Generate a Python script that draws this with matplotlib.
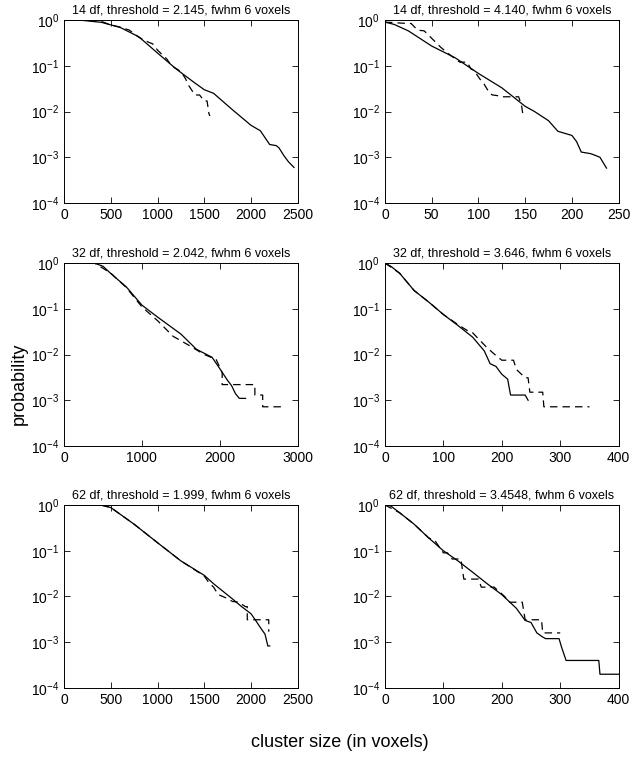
import numpy as np
import matplotlib
matplotlib.use('Agg')
import matplotlib.pyplot as plt
from matplotlib.ticker import LogLocator, NullLocator

plt.rcParams['font.family'] = ['Liberation Sans', 'DejaVu Sans']
plt.rcParams['mathtext.fontset'] = 'custom'
plt.rcParams['mathtext.rm'] = 'Liberation Sans'
plt.rcParams['mathtext.it'] = 'Liberation Sans:italic'
plt.rcParams['mathtext.bf'] = 'Liberation Sans:bold'

titles = ['14 df, threshold = 2.145, fwhm 6 voxels',
          '14 df, threshold = 4.140, fwhm 6 voxels',
          '32 df, threshold = 2.042, fwhm 6 voxels',
          '32 df, threshold = 3.646, fwhm 6 voxels',
          '62 df, threshold = 1.999, fwhm 6 voxels',
          '62 df, threshold = 3.4548, fwhm 6 voxels']
xmax = [2500, 250, 3000, 400, 2500, 400]
xticks = [[0, 500, 1000, 1500, 2000, 2500],
          [0, 50, 100, 150, 200, 250],
          [0, 1000, 2000, 3000],
          [0, 100, 200, 300, 400],
          [0, 500, 1000, 1500, 2000, 2500],
          [0, 100, 200, 300, 400]]

# solid curves
s1_x = [0, 200, 400, 600, 800, 1000, 1200, 1400, 1500, 1600, 1800, 2000, 2100, 2200, 2270, 2300, 2350, 2400, 2460]
s1_p = [1.0, 0.98, 0.89, 0.69, 0.43, 0.19, 0.085, 0.042, 0.030, 0.025, 0.011, 0.005, 0.0038, 0.0019, 0.0018, 0.0016, 0.0011, 0.0008, 0.0006]
s2_x = [0, 10, 25, 50, 75, 100, 125, 150, 160, 175, 185, 200, 205, 210, 220, 225, 230, 237]
s2_p = [0.9, 0.8, 0.58, 0.27, 0.15, 0.068, 0.033, 0.013, 0.01, 0.0063, 0.0037, 0.003, 0.0022, 0.0013, 0.0012, 0.0011, 0.001, 0.00058]
s3_x = [0, 300, 400, 500, 600, 800, 1000, 1200, 1500, 1700, 1900, 2000, 2100, 2150, 2200, 2250, 2330]
s3_p = [1.0, 1.0, 0.98, 0.85, 0.59, 0.3, 0.12, 0.066, 0.028, 0.013, 0.0087, 0.0049, 0.0027, 0.0021, 0.0014, 0.0011, 0.0011]
s4_x = [0, 10, 25, 50, 75, 100, 125, 150, 170, 180, 190, 200, 210, 215, 240, 245]
s4_p = [1.0, 0.85, 0.6, 0.25, 0.14, 0.075, 0.043, 0.024, 0.012, 0.0063, 0.0055, 0.0037, 0.0029, 0.0013, 0.0013, 0.001]
s5_x = [0, 300, 400, 500, 750, 1000, 1250, 1500, 1600, 1700, 1800, 1900, 2000, 2050, 2100, 2150, 2180, 2200]
s5_p = [1.0, 1.0, 0.99, 0.88, 0.38, 0.15, 0.06, 0.029, 0.019, 0.013, 0.0089, 0.006, 0.0042, 0.003, 0.0021, 0.0015, 0.00083, 0.00083]
s6_x = [0, 10, 25, 50, 75, 100, 125, 150, 175, 200, 225, 240, 250, 260, 270, 275, 298, 302, 310, 366, 368, 400]
s6_p = [1.0, 0.95, 0.68, 0.38, 0.19, 0.1, 0.06, 0.034, 0.019, 0.011, 0.0055, 0.003, 0.0027, 0.0016, 0.0013, 0.0012, 0.0012, 0.0008, 0.0004, 0.0004, 0.0002, 0.0002]

# dashed curves
d1_x = [0, 200, 400, 500, 600, 700, 800, 900, 950, 1000, 1100, 1150, 1250, 1300, 1330, 1400, 1450, 1500, 1530, 1550, 1560]
d1_p = [1.0, 0.99, 0.93, 0.78, 0.7, 0.6, 0.42, 0.33, 0.3, 0.22, 0.14, 0.1, 0.075, 0.052, 0.038, 0.023, 0.023, 0.017, 0.017, 0.009, 0.008]
d2_x = [0, 20, 28, 35, 42, 60, 70, 80, 88, 92, 95, 102, 106, 112, 115, 122, 125, 135, 143, 146, 148]
d2_p = [0.9, 0.85, 0.84, 0.6, 0.58, 0.25, 0.17, 0.12, 0.12, 0.085, 0.08, 0.05, 0.04, 0.025, 0.023, 0.022, 0.021, 0.021, 0.021, 0.014, 0.0075]
d3_x = [0, 300, 400, 600, 800, 1000, 1200, 1400, 1600, 1800, 1900, 1950, 2030, 2030, 2450, 2450, 2550, 2550, 2800]
d3_p = [1.0, 1.0, 0.98, 0.6, 0.29, 0.11, 0.055, 0.025, 0.016, 0.01, 0.0085, 0.008, 0.004, 0.0022, 0.0022, 0.0013, 0.0013, 0.00072, 0.00072]
d4_x = [0, 25, 50, 75, 100, 125, 140, 150, 160, 175, 190, 200, 220, 225, 240, 245, 248, 270, 272, 350]
d4_p = [1.0, 0.6, 0.25, 0.14, 0.075, 0.045, 0.034, 0.03, 0.022, 0.014, 0.0095, 0.0075, 0.0075, 0.0047, 0.0031, 0.0031, 0.0015, 0.0015, 0.00072, 0.00072]
d5_x = [0, 300, 400, 500, 750, 1000, 1250, 1500, 1550, 1600, 1650, 1750, 1800, 1870, 1940, 1960, 1960, 2170, 2190, 2190]
d5_p = [1.0, 1.0, 0.99, 0.88, 0.38, 0.15, 0.06, 0.028, 0.02, 0.016, 0.011, 0.009, 0.0078, 0.0075, 0.006, 0.006, 0.0031, 0.0031, 0.0031, 0.0017]
d6_x = [0, 25, 50, 75, 85, 100, 107, 115, 130, 135, 160, 165, 187, 205, 212, 235, 240, 268, 270, 300]
d6_p = [1.0, 0.68, 0.38, 0.19, 0.17, 0.09, 0.09, 0.066, 0.066, 0.024, 0.024, 0.016, 0.016, 0.01, 0.0075, 0.0075, 0.0031, 0.0031, 0.0016, 0.0016]

solid = [(s1_x, s1_p), (s2_x, s2_p), (s3_x, s3_p), (s4_x, s4_p), (s5_x, s5_p), (s6_x, s6_p)]
dashed = [(d1_x, d1_p), (d2_x, d2_p), (d3_x, d3_p), (d4_x, d4_p), (d5_x, d5_p), (d6_x, d6_p)]

fig = plt.figure(figsize=(6.3, 7.67), dpi=100)
lefts = [0.1016, 0.611]
bottoms = [0.7353, 0.4185, 0.103]
w, h = 0.371, 0.2386

for i in range(6):
    r, c = divmod(i, 2)
    ax = fig.add_axes([lefts[c], bottoms[r], w, h])
    ax.plot(dashed[i][0], dashed[i][1], 'k', lw=0.9, dashes=(6, 4))
    ax.plot(solid[i][0], solid[i][1], 'k-', lw=0.9)
    ax.set_yscale('log')
    ax.set_ylim(1e-4, 1)
    ax.set_xlim(0, xmax[i])
    ax.set_xticks(xticks[i])
    ax.yaxis.set_major_locator(LogLocator(base=10, numticks=10))
    ax.yaxis.set_minor_locator(NullLocator())
    ax.tick_params(direction='in', top=True, right=True, labelsize=10, length=4, width=0.6)
    for sp in ax.spines.values():
        sp.set_linewidth(0.7)
    ax.set_title(titles[i], fontsize=9, pad=5)

fig.text(0.03, 0.5, 'probability', rotation=90, ha='center', va='center', fontsize=13)
fig.text(0.54, 0.032, 'cluster size (in voxels)', ha='center', va='center', fontsize=13)

fig.savefig('out.png', dpi=100)
